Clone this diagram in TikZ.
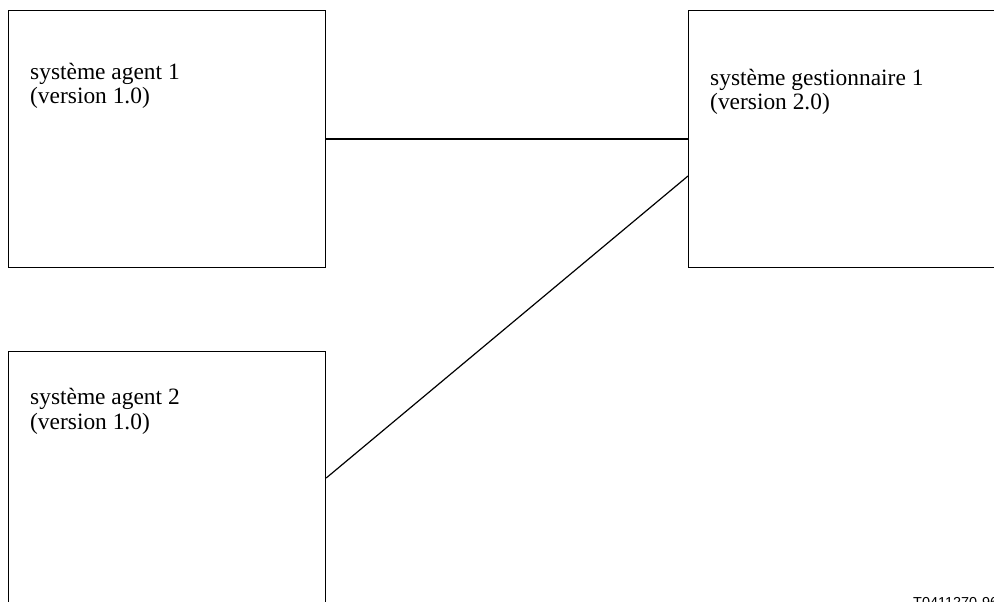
\documentclass[tikz,border=0pt]{standalone}
\usepackage{fontspec}
\setmainfont{Liberation Serif}
\newfontfamily\tagfont{Liberation Sans}
\begin{document}
\begin{tikzpicture}[x=1bp,y=-1bp,
  box/.style={draw=black, line width=1.2bp, rectangle, inner sep=0pt, anchor=north west},
  lbl/.style={inner sep=0pt, anchor=base west, align=left, font=\fontsize{23.5}{25}\selectfont},
  link/.style={draw=black, line width=1.2bp}]
  \useasboundingbox (0,0) rectangle (994,602);
  \clip (0,0) rectangle (994,602);
  % systems
  \node[box, minimum width=317bp, minimum height=257bp] (ag1) at (8,10) {};
  \node[box, minimum width=317bp, minimum height=270bp] (ag2) at (8,351) {};
  \node[box, minimum width=330bp, minimum height=257bp] (mgr) at (688,10) {};
  % labels (anchored on the baseline of their last line)
  \node[lbl] (t1) at (30,104) {système agent 1\\(version 1.0)};
  \node[lbl] (t2) at (30,429) {système agent 2\\(version 1.0)};
  \node[lbl] (t3) at (710,110) {système gestionnaire 1\\(version 2.0)};
  % associations
  \coordinate (e1) at (ag1.east |- 0,139);
  \coordinate (w1) at (mgr.west |- 0,139);
  \coordinate (e2) at (ag2.east |- 0,478);
  \coordinate (w2) at (mgr.west |- 0,176);
  \draw[link] (e1) -- (w1);
  \draw[link] (e2) -- (w2);
  % figure reference
  \node[inner sep=0pt, anchor=base west, font=\tagfont\fontsize{14.5}{16}\selectfont] (ref) at (913,607) {T0411270-96};
\end{tikzpicture}
\end{document}
